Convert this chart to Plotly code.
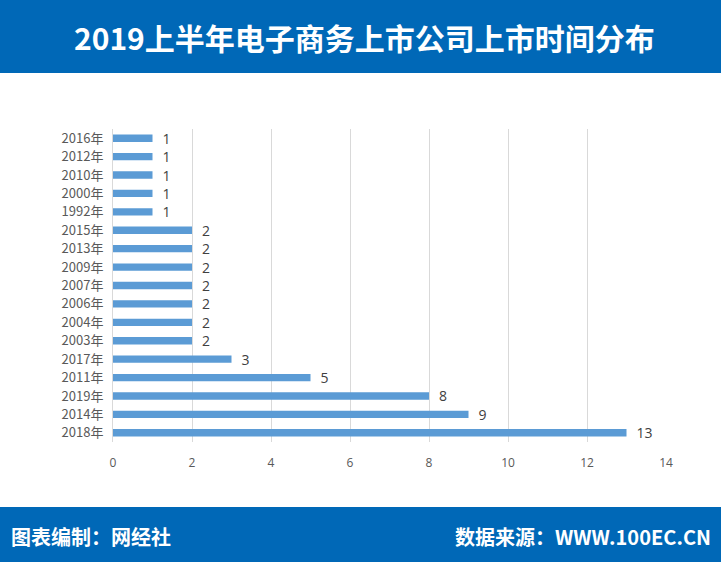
import plotly.graph_objects as go

categories = ["2018年", "2014年", "2019年", "2011年", "2017年", "2003年", "2004年", "2006年",
              "2007年", "2009年", "2013年", "2015年", "1992年", "2000年", "2010年", "2012年", "2016年"]
values = [13, 9, 8, 5, 3, 2, 2, 2, 2, 2, 2, 2, 1, 1, 1, 1, 1]
x_ticks = [0, 2, 4, 6, 8, 10, 12, 14]

title_text = "2019上半年电子商务上市公司上市时间分布"
footer_left = "图表编制：网经社"
footer_right = "数据来源：WWW.100EC.CN"

W, H = 721, 562
ML, MR, MT, MB = 113, 55, 129, 120
PW, PH = W - ML - MR, H - MT - MB

def px(x):
    return (x - ML) / PW

def py(y):
    return (H - MB - y) / PH

BLUE = "#0068B7"
FONT = "Noto Sans CJK SC"

fig = go.Figure(go.Bar(
    x=values, y=categories, orientation="h",
    marker=dict(color="#5B9BD5", line=dict(width=0)),
    text=["\u2002" + str(v) for v in values], textposition="outside",
    constraintext="none",
    textfont=dict(family="Open Sans", size=14, color="#404040"),
    cliponaxis=False, width=0.4,
))

fig.update_layout(
    width=W, height=H,
    margin=dict(l=ML, r=MR, t=MT, b=MB),
    paper_bgcolor="white", plot_bgcolor="white",
    showlegend=False,
    xaxis=dict(range=[0, 14], tickvals=x_ticks, showgrid=True, gridcolor="#D9D9D9", gridwidth=1,
               zeroline=False, showline=False, ticks="", ticklen=0,
               tickfont=dict(family="Open Sans", size=12, color="#595959")),
    yaxis=dict(categoryorder="array", categoryarray=categories, showgrid=False, zeroline=False,
               showline=True, linecolor="#D9D9D9", linewidth=1, ticks="",
               tickfont=dict(family=FONT, size=13, color="#595959"), range=[-0.5, 16.5]),
    shapes=[
        dict(type="rect", xref="paper", yref="paper", x0=px(0), x1=px(W), y0=py(73), y1=py(0),
             fillcolor=BLUE, line=dict(width=0), layer="below"),
        dict(type="rect", xref="paper", yref="paper", x0=px(0), x1=px(W), y0=py(H), y1=py(507),
             fillcolor=BLUE, line=dict(width=0), layer="below"),
    ],
    annotations=[
        dict(text="<b>" + title_text + "</b>", xref="paper", yref="paper", x=px(364), y=py(37),
             xanchor="center", yanchor="middle", showarrow=False,
             font=dict(family=FONT, size=30, color="white")),
        dict(text="<b>" + footer_left + "</b>", xref="paper", yref="paper", x=px(9), y=py(536),
             xanchor="left", yanchor="middle", showarrow=False,
             font=dict(family=FONT, size=20, color="white")),
        dict(text="<b>" + footer_right + "</b>", xref="paper", yref="paper", x=px(713), y=py(536),
             xanchor="right", yanchor="middle", showarrow=False,
             font=dict(family=FONT, size=20, color="white")),
    ],
)
fig.update_xaxes(ticklabelstandoff=12)
fig.update_yaxes(ticklabelstandoff=6)

fig.write_html("out.html")
